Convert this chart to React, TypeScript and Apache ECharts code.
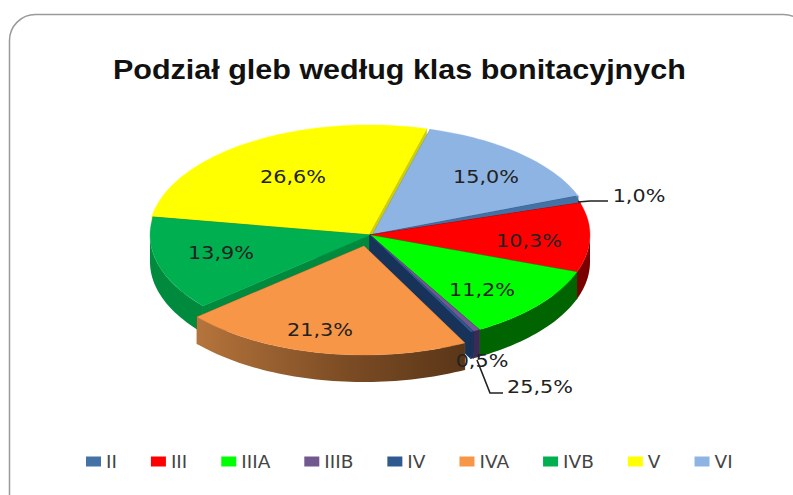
import React, { useEffect, useRef } from "react";
import * as echarts from "echarts";

const TITLE = "Podział gleb według klas bonitacyjnych";
const categories = ["II", "III", "IIIA", "IIIB", "IV", "IVA", "IVB", "V", "VI"];
// Slice sizes as drawn (percent of the circle)
const shares = [1.0, 10.3, 11.2, 0.5, 0.2, 21.3, 13.9, 26.6, 15.0];
// Data labels as printed on the chart
const labelTexts = ["1,0%", "10,3%", "11,2%", "0,5%", "25,5%", "21,3%", "13,9%", "26,6%", "15,0%"];

const sliceShifts: [number, number][] = [
  [0, 0], [0, 0], [0, 0], [0, 0], [0, 0], [-6, 11], [0, 0], [-1, -1.1], [2.5, -0.5],
];
const topColors = ["#4472A6", "#FF0000", "#00FF00", "#71588F", "#2F5A90", "#F79646", "#00B050", "#FFFF00", "#8EB4E3"];
const wallColors = ["#2A4A70", "#7A0000", "#006400", "#3A2A55", "#17335A", "#8A5428", "#008A3E", "#D0D000", "#5A7FAA"];
const labelCentres: [number, number][] = [
  [639, 196], [529, 241], [482, 290], [482, 361], [540, 387], [320, 330], [221, 253], [293, 177], [486, 177],
];
const leaders: [number, number][][] = [
  [[578, 202], [590, 201], [608, 201]],
  [[477, 360], [490, 393], [503, 393]],
];
const drawOrder = [7, 8, 0, 1, 6, 2, 3, 4, 5];

const CX = 370, CY = 235, RX = 220, RY = 109, DEPTH = 27, START_DEG = 69.2;

const total = shares.reduce((s, v) => s + v, 0);
const startAngles: number[] = [];
shares.reduce((acc, v) => {
  startAngles.push(acc);
  return acc + (v / total) * 360;
}, START_DEG);

function point(deg: number, ox: number, oy: number): number[] {
  const a = (deg * Math.PI) / 180;
  return [ox + RX * Math.sin(a), oy - RY * Math.cos(a)];
}
function arc(a0: number, a1: number, ox: number, oy: number): number[][] {
  const n = Math.max(2, Math.ceil(Math.abs(a1 - a0) / 1.5));
  const pts: number[][] = [];
  for (let i = 0; i <= n; i++) pts.push(point(a0 + ((a1 - a0) * i) / n, ox, oy));
  return pts;
}

function sliceItem(idx: number) {
  return (_p: any, api: any) => {
    const value = api.value(0);
    const a0 = startAngles[idx];
    const a1 = a0 + (value / total) * 360;
    const ox = CX + sliceShifts[idx][0];
    const oy = CY + sliceShifts[idx][1];
    const children: any[] = [];
    const wall = (deg: number) => {
      const p = point(deg, ox, oy);
      children.push({
        type: "polygon",
        shape: { points: [[ox, oy], p, [p[0], p[1] + DEPTH], [ox, oy + DEPTH]] },
        style: { fill: wallColors[idx], stroke: wallColors[idx], lineWidth: 0.5 },
      });
    };
    wall(a0);
    wall(a1);
    const f0 = Math.max(a0, 90);
    const f1 = Math.min(a1, 270);
    if (f1 > f0) {
      const top = arc(f0, f1, ox, oy);
      const bottom = top.map((p) => [p[0], p[1] + DEPTH]).reverse();
      const fill =
        idx === 5
          ? new echarts.graphic.LinearGradient(0, 0, 1, 0, [
              { offset: 0, color: "#B5743C" },
              { offset: 0.55, color: "#7C4C24" },
              { offset: 1, color: "#5A3618" },
            ])
          : wallColors[idx];
      children.push({ type: "polygon", shape: { points: [...top, ...bottom] }, style: { fill } });
    }
    children.push({
      type: "polygon",
      shape: { points: [[ox, oy], ...arc(a0, a1, ox, oy)] },
      style: { fill: topColors[idx], stroke: topColors[idx], lineWidth: 0.3 },
    });
    return { type: "group", children };
  };
}

function labelItem() {
  return () => {
    const children: any[] = leaders.map((points) => ({
      type: "polyline",
      shape: { points },
      style: { stroke: "#222", lineWidth: 1.6, fill: "none" },
    }));
    labelTexts.forEach((text, i) => {
      children.push({
        type: "text",
        x: labelCentres[i][0],
        y: labelCentres[i][1],
        scaleX: 1.22,
        style: {
          text,
          fill: "#222222",
          font: "17px 'DejaVu Sans'",
          align: "center",
          verticalAlign: "middle",
          textAlign: "center",
          textVerticalAlign: "middle",
        },
      });
    });
    return { type: "group", children };
  };
}

export default function App() {
  const ref = useRef<HTMLDivElement>(null);
  useEffect(() => {
    document.body.style.margin = "0";
    const chart = echarts.init(ref.current!, null, { renderer: "svg" });
    chart.setOption({
      animation: false,
      backgroundColor: "#ffffff",
      legend: {
        data: categories,
        left: 86,
        top: 452,
        padding: 0,
        icon: "rect",
        itemWidth: 15,
        itemHeight: 10,
        itemGap: 34,
        textStyle: { fontFamily: "'DejaVu Sans'", fontSize: 18.5, color: "#444444" },
      },
      graphic: [
        {
          type: "rect",
          shape: { x: 9.5, y: 14.5, width: 800, height: 520, r: 26 },
          style: { fill: "none", stroke: "#9a9a9a", lineWidth: 1.5 },
          silent: true,
          z: -1,
        },
        {
          type: "text",
          x: 113,
          y: 68.5,
          scaleX: 1.09,
          style: {
            text: TITLE,
            fill: "#111111",
            font: "bold 28px 'Liberation Sans'",
            align: "left",
            verticalAlign: "middle",
            textAlign: "left",
            textVerticalAlign: "middle",
          },
        },
      ],
      series: [
        ...drawOrder.map((idx) => ({
          type: "custom",
          name: categories[idx],
          coordinateSystem: "none",
          itemStyle: { color: topColors[idx] },
          data: [[shares[idx]]],
          renderItem: sliceItem(idx),
          silent: true,
        })),
        {
          type: "custom",
          name: "labels",
          coordinateSystem: "none",
          data: [[0]],
          renderItem: labelItem(),
          silent: true,
        },
      ],
    });
    return () => chart.dispose();
  }, []);
  return <div ref={ref} style={{ width: 793, height: 495 }} />;
}
